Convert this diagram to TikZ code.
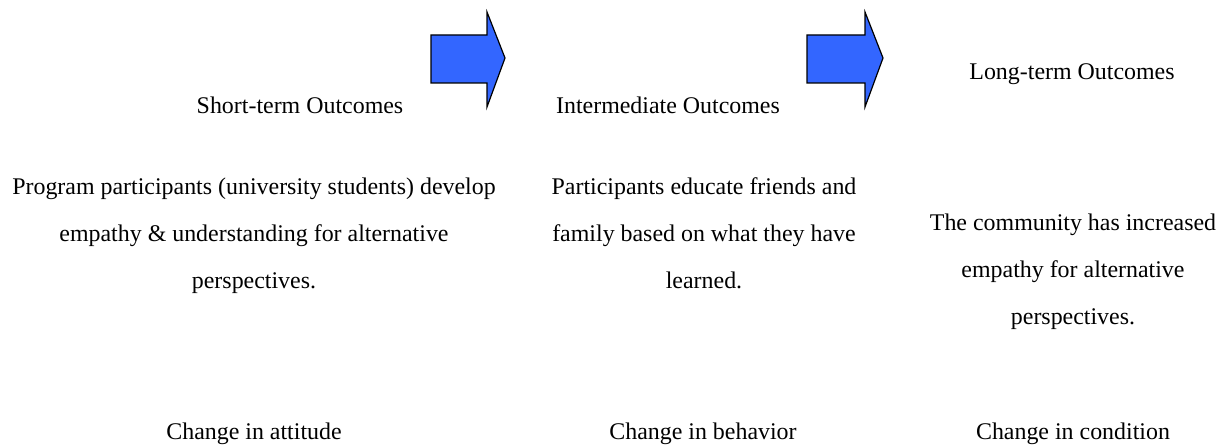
\documentclass[tikz,border=0pt]{standalone}
\usepackage{fontspec}
\setmainfont{Liberation Serif}
\definecolor{arrowblue}{RGB}{51,102,255}
\tikzset{
  label/.style={font=\fontsize{24}{47.5}\selectfont, align=center, inner sep=0pt, anchor=base},
  bigarrow/.style={draw=black, line width=1.2bp, fill=arrowblue, line join=miter}
}
\begin{document}
\begin{tikzpicture}[x=1bp,y=-1bp]
  \useasboundingbox (0,0) rectangle (1222,446);
  % block arrows between the stages
  \draw[bigarrow] (431,35) -- (487,35) -- (487,12) -- (505,58) -- (487,107) -- (487,83) -- (431,83) -- cycle;
  \draw[bigarrow] (807,35) -- (865,35) -- (865,12) -- (883,58) -- (865,107) -- (865,83) -- (807,83) -- cycle;
  % stage headings (anchored on their baselines)
  \node[label] (h1) at (300,114) {Short-term Outcomes};
  \node[label] (h2) at (668,114) {Intermediate Outcomes};
  \node[label] (h3) at (1072,80) {Long-term Outcomes};
  % outcome descriptions (anchored on the baseline of the last line)
  \node[label] (d1) at (254,289) {Program participants (university students) develop\\empathy \& understanding for alternative\\perspectives.};
  \node[label] (d2) at (704,289) {Participants educate friends and\\family based on what they have\\learned.};
  \node[label] (d3) at (1073,325) {The community has increased\\empathy for alternative\\perspectives.};
  % kind of change
  \node[label] (c1) at (254,440) {Change in attitude};
  \node[label] (c2) at (703,440) {Change in behavior};
  \node[label] (c3) at (1073,440) {Change in condition};
\end{tikzpicture}
\end{document}
